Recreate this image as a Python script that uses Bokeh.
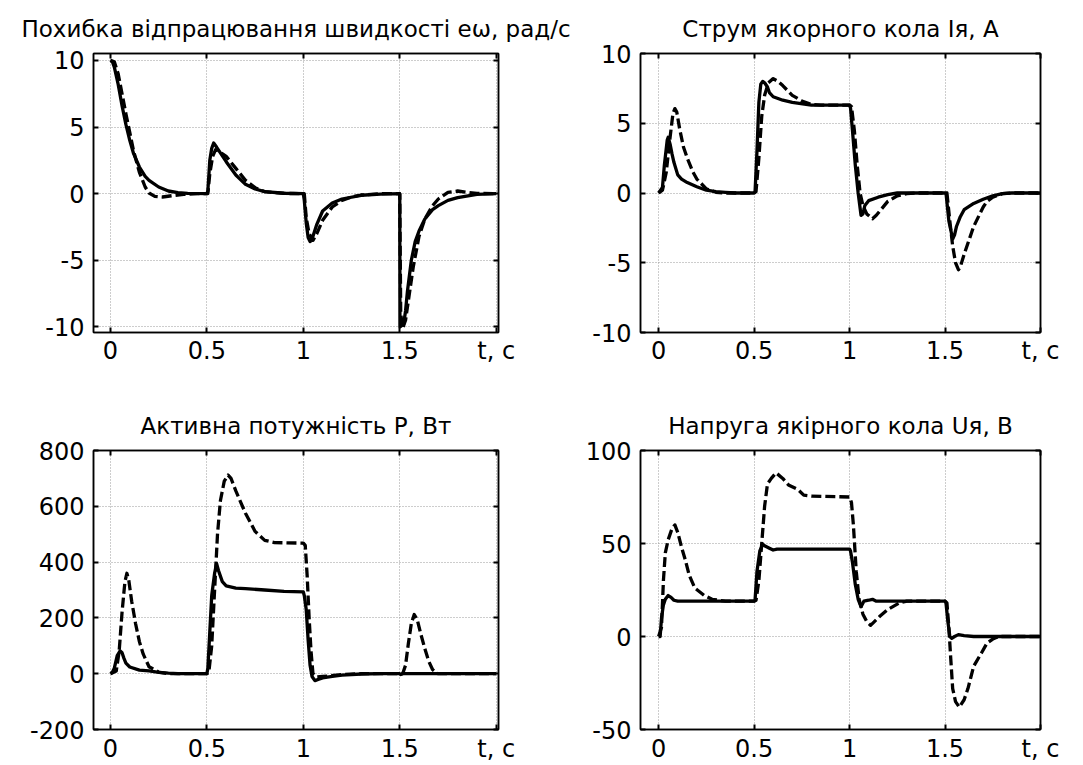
from bokeh.plotting import figure
from bokeh.layouts import gridplot
from bokeh.models import LinearAxis, FixedTicker, Range1d
from bokeh.embed import file_html
from bokeh.resources import INLINE

# ---------------- data ----------------
x_ticks = [0, 0.5, 1, 1.5, 2]
x_tick_labels = ["0", "0.5", "1", "1.5", "t, c"]

# speed error e_w, rad/s
e_t_solid = [0, 0.01, 0.02, 0.04, 0.06, 0.08, 0.1, 0.12, 0.15, 0.18, 0.2, 0.25, 0.3, 0.35, 0.4, 0.5,
             0.505, 0.515, 0.525, 0.535, 0.55, 0.6, 0.65, 0.7, 0.75, 0.8, 0.9, 1.0,
             1.005, 1.015, 1.025, 1.035, 1.05, 1.07, 1.1, 1.15, 1.2, 1.3, 1.4, 1.5,
             1.501, 1.52, 1.53, 1.54, 1.56, 1.58, 1.6, 1.63, 1.67, 1.7, 1.75, 1.8, 1.9, 2.0]
e_solid = [10, 9.9, 9.5, 8.2, 6.6, 5.2, 4.0, 3.0, 2.0, 1.3, 1.0, 0.5, 0.2, 0.08, 0.02, 0,
           0.2, 2.5, 3.4, 3.8, 3.5, 2.4, 1.4, 0.7, 0.35, 0.15, 0.03, 0,
           -0.5, -2.2, -3.3, -3.6, -3.2, -2.3, -1.3, -0.7, -0.4, -0.12, -0.03, 0,
           -10, -9.8, -8.8, -7.3, -5.0, -3.6, -2.8, -1.9, -1.2, -0.9, -0.5, -0.3, -0.05, 0]
e_t_dash = [0, 0.02, 0.04, 0.06, 0.08, 0.1, 0.12, 0.15, 0.18, 0.2, 0.23, 0.27, 0.32, 0.38, 0.45, 0.5,
            0.505, 0.515, 0.53, 0.545, 0.56, 0.6, 0.65, 0.7, 0.75, 0.8, 0.9, 1.0,
            1.005, 1.015, 1.03, 1.05, 1.07, 1.1, 1.15, 1.2, 1.25, 1.3, 1.4, 1.5,
            1.505, 1.515, 1.53, 1.55, 1.57, 1.6, 1.63, 1.67, 1.7, 1.75, 1.8, 1.85, 1.9, 2.0]
e_dash = [10, 9.9, 9.0, 7.5, 6.0, 4.6, 3.2, 1.6, 0.5, 0.05, -0.2, -0.25, -0.15, -0.05, 0, 0,
          0, 1.5, 2.8, 3.3, 3.2, 2.8, 1.9, 1.0, 0.45, 0.15, 0.02, 0,
          0, -1.8, -3.0, -3.5, -3.0, -2.0, -1.0, -0.5, -0.25, -0.1, 0, 0,
          -9.0, -10.1, -9.5, -7.5, -5.5, -3.2, -1.9, -0.9, -0.4, 0.1, 0.2, 0.1, 0.02, 0]
e_y_ticks = [-10, -5, 0, 5, 10]

# armature current I, A
i_t_solid = [0, 0.01, 0.02, 0.03, 0.045, 0.05, 0.06, 0.07, 0.08, 0.1, 0.12, 0.15, 0.2, 0.25, 0.3, 0.35, 0.4, 0.5,
             0.505, 0.515, 0.525, 0.535, 0.545, 0.555, 0.57, 0.58, 0.6, 0.65, 0.7, 0.8, 1.0,
             1.005, 1.015, 1.03, 1.045, 1.06, 1.07, 1.08, 1.1, 1.15, 1.2, 1.25, 1.5,
             1.505, 1.52, 1.54, 1.55, 1.56, 1.58, 1.6, 1.65, 1.7, 1.75, 1.8, 1.85, 2.0]
i_solid = [0, 0.2, 0.4, 2.0, 3.8, 4.0, 3.5, 2.8, 2.2, 1.3, 1.0, 0.75, 0.45, 0.2, 0.1, 0.05, 0, 0,
           0.1, 3.0, 6.5, 7.8, 8.0, 7.9, 7.6, 7.2, 6.9, 6.65, 6.5, 6.3, 6.3,
           6.1, 4.5, 2.0, 0, -1.6, -1.5, -0.9, -0.55, -0.3, -0.12, 0, 0,
           0, -2.0, -3.3, -3.0, -2.4, -1.7, -1.2, -0.75, -0.45, -0.2, -0.05, 0, 0]
i_t_dash = [0, 0.02, 0.04, 0.06, 0.075, 0.085, 0.095, 0.11, 0.13, 0.15, 0.18, 0.2, 0.25, 0.3, 0.35, 0.5,
            0.51, 0.525, 0.54, 0.555, 0.575, 0.6, 0.625, 0.65, 0.7, 0.75, 0.8, 0.85, 1.0,
            1.01, 1.025, 1.04, 1.055, 1.07, 1.09, 1.12, 1.14, 1.17, 1.2, 1.25, 1.3, 1.35, 1.5,
            1.51, 1.525, 1.54, 1.555, 1.57, 1.58, 1.6, 1.63, 1.65, 1.7, 1.72, 1.75, 1.8, 1.85, 2.0]
i_dash = [0, 0.2, 1.5, 4.0, 5.7, 6.05, 5.8, 4.6, 3.3, 2.5, 1.5, 1.0, 0.3, 0.05, 0, 0,
          0.1, 2.5, 5.5, 7.0, 7.9, 8.2, 8.0, 7.7, 7.0, 6.6, 6.35, 6.3, 6.3,
          6.2, 4.5, 2.0, 0, -0.9, -1.5, -1.85, -1.6, -1.1, -0.6, -0.2, -0.05, 0, 0,
          0, -2.0, -3.8, -5.0, -5.5, -5.3, -4.4, -3.2, -2.4, -1.0, -0.6, -0.3, -0.05, 0, 0]
i_y_ticks = [-10, -5, 0, 5, 10]

# active power P, W
p_t_solid = [0, 0.01, 0.02, 0.035, 0.05, 0.06, 0.07, 0.08, 0.1, 0.15, 0.2, 0.25, 0.3, 0.35, 0.5,
             0.505, 0.515, 0.525, 0.54, 0.55, 0.56, 0.58, 0.6, 0.65, 0.7, 0.8, 0.9, 1.0,
             1.005, 1.015, 1.025, 1.035, 1.045, 1.06, 1.08, 1.1, 1.15, 1.2, 1.3, 1.4, 1.5,
             1.505, 1.515, 2.0]
p_solid = [0, 5, 20, 65, 82, 75, 55, 38, 24, 13, 10, 5, 2, 0, 0,
           20, 150, 280, 360, 395, 370, 330, 315, 307, 305, 300, 295, 293,
           280, 230, 120, 30, -10, -25, -20, -15, -10, -5, -1, 0, 0,
           -3, 0, 0]
p_t_dash = [0, 0.03, 0.045, 0.06, 0.075, 0.085, 0.095, 0.11, 0.13, 0.15, 0.17, 0.2, 0.25, 0.3, 0.5,
            0.51, 0.525, 0.54, 0.555, 0.57, 0.59, 0.61, 0.625, 0.65, 0.7, 0.75, 0.8, 0.85, 1.0,
            1.01, 1.02, 1.03, 1.04, 1.05, 1.07, 1.1, 1.2, 1.3, 1.515,
            1.53, 1.545, 1.56, 1.575, 1.59, 1.61, 1.63, 1.65, 1.67, 1.69, 1.7, 2.0]
p_dash = [0, 10, 80, 220, 330, 360, 335, 260, 180, 115, 70, 25, 6, 0, 0,
          5, 100, 300, 500, 620, 690, 712, 700, 655, 575, 510, 478, 470, 468,
          460, 350, 200, 80, 0, -12, -10, -3, 0, 0,
          30, 110, 180, 212, 195, 140, 90, 45, 15, 3, 0, 0]
p_y_ticks = [-200, 0, 200, 400, 600, 800]

# armature voltage U, V
u_t_solid = [0, 0.008, 0.015, 0.025, 0.035, 0.05, 0.065, 0.08, 0.1, 0.5,
             0.505, 0.515, 0.53, 0.545, 0.56, 0.58, 0.6, 0.62, 1.0,
             1.005, 1.015, 1.03, 1.045, 1.06, 1.075, 1.1, 1.12, 1.14, 1.5,
             1.505, 1.515, 1.525, 1.535, 1.55, 1.57, 1.6, 1.65, 2.0]
u_solid = [0, 0, 10, 17, 20, 22, 21, 19.5, 19, 19,
           19.5, 35, 46, 49.5, 48.5, 47.5, 46.5, 47, 47,
           46, 40, 28, 20, 16, 19, 19.5, 20, 19, 19,
           18, 8, 0, -1, 0, 1, 0.5, 0, 0]
u_t_dash = [0, 0.015, 0.025, 0.035, 0.05, 0.07, 0.085, 0.1, 0.12, 0.14, 0.16, 0.19, 0.24, 0.28, 0.35, 0.5,
            0.51, 0.525, 0.54, 0.555, 0.57, 0.59, 0.615, 0.65, 0.68, 0.73, 0.76, 0.8, 1.0,
            1.01, 1.02, 1.035, 1.05, 1.07, 1.09, 1.11, 1.13, 1.16, 1.2, 1.26, 1.3, 1.5,
            1.51, 1.52, 1.53, 1.54, 1.555, 1.575, 1.6, 1.62, 1.65, 1.69, 1.72, 1.75, 1.78, 2.0]
u_dash = [0, 5, 30, 45, 52, 58, 60, 56, 48, 41, 33, 26, 22, 20, 19, 19,
          19.5, 30, 50, 70, 82, 85, 88, 85, 81.5, 79, 76, 75.5, 75,
          72, 60, 35, 20, 12, 8, 6, 8, 11, 14.5, 18, 19, 19,
          18, 5, -12, -28, -35, -38, -34, -28, -16, -9, -3.5, -1.4, 0, 0]
u_y_ticks = [-50, 0, 50, 100]

# ---------------- styling ----------------
FONT = "DejaVu Sans"
TICK_FS = "24px"
TITLE_FS = "23px"


def make_plot(title, ts, ys, td, yd, yticks, yrange, xrange, w, h, borders, lab_standoff, title_standoff):
    left, right, top, bottom = borders
    p = figure(width=w, height=h, x_range=Range1d(*xrange), y_range=Range1d(*yrange),
               output_backend="svg", toolbar_location=None,
               min_border_left=left, min_border_right=right,
               min_border_top=top, min_border_bottom=bottom)
    p.title.text = title
    p.title.align = "center"
    p.title.text_font = FONT
    p.title.text_font_size = TITLE_FS
    p.title.text_font_style = "normal"
    p.title.text_color = "black"
    p.title.standoff = title_standoff
    p.background_fill_color = "white"
    p.border_fill_color = "white"
    p.outline_line_color = "black"
    p.outline_line_width = 1.5

    xt = FixedTicker(ticks=x_ticks)
    yt = FixedTicker(ticks=yticks)
    p.xaxis.ticker = xt
    p.yaxis.ticker = yt
    p.xaxis.major_label_overrides = {k: v for k, v in zip(x_ticks, x_tick_labels)}
    p.yaxis.major_label_overrides = {k: str(k) for k in yticks}
    for ax in (p.xaxis[0], p.yaxis[0]):
        ax.major_tick_in = 5
        ax.major_tick_out = 0
        ax.major_tick_line_width = 2
        ax.minor_tick_line_color = None
        ax.axis_line_width = 1.5
        ax.axis_line_color = "black"
        ax.major_label_text_font = FONT
        ax.major_label_text_font_size = TICK_FS
        ax.major_label_text_color = "black"
    p.xaxis.major_label_standoff = lab_standoff
    p.yaxis.major_label_standoff = 9

    # box ticks on the top and right edges (no labels)
    for loc, tk in (("above", xt), ("right", yt)):
        ax = LinearAxis(ticker=tk, major_tick_in=5, major_tick_out=0, major_tick_line_width=2,
                        minor_tick_line_color=None, axis_line_width=1.5,
                        major_label_text_color=None, major_label_text_font_size="1px",
                        major_label_standoff=0)
        p.add_layout(ax, loc)

    p.xgrid.ticker = xt
    p.ygrid.ticker = yt
    for g in (p.xgrid[0], p.ygrid[0]):
        g.grid_line_color = "#9a9a9a"
        g.grid_line_dash = "1 2"
        g.grid_line_width = 1

    p.line(ts, ys, line_color="black", line_width=3.3, line_join="round")
    p.line(td, yd, line_color="black", line_width=3.3, line_dash="10 4", line_join="round")
    return p


p1 = make_plot("Похибка відпрацювання швидкості eω, рад/с", e_t_solid, e_solid, e_t_dash, e_dash,
               e_y_ticks, (-10.42, 10.52), (-0.088, 2.012), 582, 377, (93, 84, 53, 45), 4, 23)
p2 = make_plot("Струм якорного кола Iя, А", i_t_solid, i_solid, i_t_dash, i_dash,
               i_y_ticks, (-10, 10), (-0.095, 2.0), 488, 377, (57, 30, 53, 45), 4, 23)
p3 = make_plot("Активна потужність Р, Вт", p_t_solid, p_solid, p_t_dash, p_dash,
               p_y_ticks, (-200, 800), (-0.088, 2.012), 582, 388, (93, 84, 73, 34), 5, 23)
p4 = make_plot("Напруга якірного кола Uя, В", u_t_solid, u_solid, u_t_dash, u_dash,
               u_y_ticks, (-50, 100), (-0.095, 2.0), 488, 388, (58, 29, 73, 34), 5, 23)

grid = gridplot([[p1, p2], [p3, p4]], toolbar_location=None)

open("out.html", "w").write(file_html(grid, INLINE))
